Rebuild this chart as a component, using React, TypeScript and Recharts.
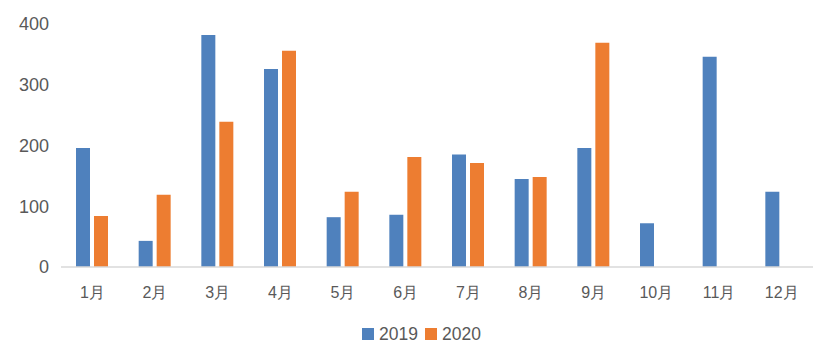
import React from "react";
import { BarChart, Bar, XAxis, YAxis, Legend } from "recharts";

const months = ["1月", "2月", "3月", "4月", "5月", "6月", "7月", "8月", "9月", "10月", "11月", "12月"];
const values2019 = [196, 43, 382, 326, 82, 86, 185, 145, 196, 72, 346, 124];
const values2020: (number | null)[] = [84, 119, 239, 356, 124, 181, 171, 148, 369, null, null, null];
const yTicks = [0, 100, 200, 300, 400];
const seriesNames = ["2019", "2020"];
const seriesColors = ["#4f81bd", "#ed7d31"];

const data = months.map((m, i) => ({ month: m, y2019: values2019[i], y2020: values2020[i] }));

const FONT = "'Liberation Sans', Arial, sans-serif";
const TEXT = "#595959";

const LegendContent = () => (
  <div
    style={{
      display: "flex",
      justifyContent: "center",
      alignItems: "center",
      height: 20,
      fontFamily: FONT,
      fontSize: 17.5,
      color: TEXT,
      paddingLeft: 30,
    }}
  >
    {seriesNames.map((n, i) => (
      <div key={n} style={{ display: "flex", alignItems: "center", marginRight: i === 0 ? 7 : 0 }}>
        <span style={{ display: "inline-block", width: 12, height: 12, background: seriesColors[i], marginRight: 5 }} />
        <span>{n}</span>
      </div>
    ))}
  </div>
);

export default function App() {
  return (
    <div style={{ position: "absolute", left: 0, top: 0, width: 826, height: 356, background: "#fff", fontFamily: FONT }}>
      <BarChart
        width={826}
        height={356}
        data={data}
        margin={{ top: 24, right: 13, bottom: 12, left: 0 }}
        barSize={14}
        barGap={4}
      >
        <XAxis
          dataKey="month"
          tickLine={false}
          tickSize={0}
          tickMargin={20}
          height={57}
          axisLine={{ stroke: "#d9d9d9", strokeWidth: 1.5 }}
          tick={{ fill: TEXT, fontSize: 16, fontFamily: FONT }}
          interval={0}
        />
        <YAxis
          domain={[0, 400]}
          ticks={yTicks}
          width={61}
          axisLine={false}
          tickLine={false}
          tickSize={0}
          tickMargin={12}
          tick={{ fill: TEXT, fontSize: 18, fontFamily: FONT }}
        />
        <Legend verticalAlign="bottom" align="center" height={20} content={<LegendContent />} />
        <Bar dataKey="y2019" name="2019" fill={seriesColors[0]} isAnimationActive={false} />
        <Bar dataKey="y2020" name="2020" fill={seriesColors[1]} isAnimationActive={false} />
      </BarChart>
    </div>
  );
}
